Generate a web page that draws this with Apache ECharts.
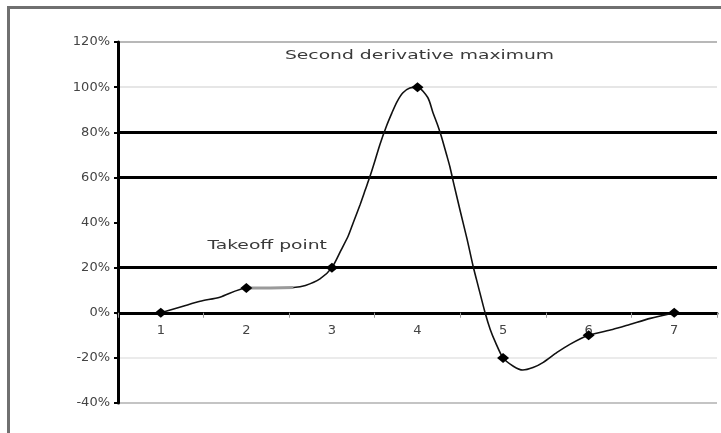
<!DOCTYPE html>
<html>
<head>
<meta charset="utf-8">
<script src="https://cdn.jsdelivr.net/npm/echarts@6/dist/echarts.min.js"></script>
<style>
  html, body { margin: 0; padding: 0; background: #fff; }
  #chart { width: 721px; height: 433px; }
</style>
</head>
<body>
<div id="chart"></div>
<script>
// ---- data ----
const xLabels = [1, 2, 3, 4, 5, 6, 7];
const xTickMarks = [0.5, 1.5, 2.5, 3.5, 4.5, 5.5, 6.5, 7.5];
const pointX = [1, 2, 3, 4, 5, 6, 7];
const pointY = [0, 11, 20, 100, -20, -10, 0];
const curveX = [1.00, 1.26, 1.46, 1.69, 2.00, 2.28, 2.55, 2.69, 2.86, 3.00, 3.11, 3.19, 3.25, 3.33, 3.39, 3.45, 3.50, 3.56, 3.64, 3.70, 3.76, 3.83, 3.91, 4.00, 4.12, 4.18, 4.24, 4.28, 4.34, 4.38, 4.42, 4.50, 4.58, 4.65, 4.71, 4.79, 4.85, 4.91, 5.00, 5.12, 5.23, 5.35, 5.47, 5.63, 5.78, 6.00, 6.28, 6.48, 6.72, 7.00];
const curveY = [0, 2.9, 5.1, 6.9, 11, 11, 11.2, 12.1, 15, 20, 28, 34, 40, 48, 54.5, 61, 67, 74.5, 83, 88.5, 93.5, 97.5, 99.6, 100, 95.4, 88.8, 82.7, 78, 70, 64.5, 57.8, 45, 32.5, 20.6, 11.7, 0, -7.4, -13, -20, -23.7, -25.4, -24.3, -22, -17.6, -14, -10, -7.4, -5.2, -2.5, 0];
const flatX = [2.00, 2.28, 2.55];
const flatY = [11, 11, 11.2];
const yMin = -40, yMax = 120, yStep = 20;
const xMin = 0.5, xMax = 7.5;
const annotationPeak = 'Second derivative maximum';
const annotationTakeoff = 'Takeoff point';
const peakIndex = 3, takeoffIndex = 2;

// ---- layout ----
const FONT = 'DejaVu Sans';
const W = 721, H = 433;
const G = { left: 118, right: 4, top: 42, bottom: 30 };
const gridH = H - G.top - G.bottom;
// shift the x axis up from the grid bottom to the 0% line
const zeroOffset = -gridH * (0 - yMin) / (yMax - yMin);

const chart = echarts.init(document.getElementById('chart'), null, { renderer: 'canvas' });
const zip = (xs, ys) => xs.map((x, i) => [x, ys[i]]);
const N = 'transparent';

chart.setOption({
  animation: false,
  backgroundColor: '#fff',
  grid: { left: G.left, right: G.right, top: G.top, bottom: G.bottom, containLabel: false },
  xAxis: {
    type: 'value', min: xMin, max: xMax, position: 'bottom', offset: zeroOffset,
    axisLine: { show: true, onZero: false, lineStyle: { color: '#000', width: 3 } },
    axisTick: { show: true, customValues: xTickMarks, length: 5, lineStyle: { color: '#9a9a9a', width: 1 } },
    axisLabel: { customValues: xLabels, formatter: v => String(v), margin: 11, fontSize: 13, fontFamily: FONT, color: '#444' },
    splitLine: { show: false }
  },
  yAxis: [
    {
      type: 'value', min: yMin, max: yMax, interval: yStep,
      axisLine: { show: true, onZero: false, lineStyle: { color: '#000', width: 3 } },
      axisTick: { show: true, length: 4, lineStyle: { color: '#000', width: 2 } },
      axisLabel: { formatter: '{value}%', margin: 8, fontSize: 13, fontFamily: FONT, color: '#444' },
      splitLine: { show: true, lineStyle: { width: 2, color: ['#c4c4c4', '#ebebeb', N, N, N, N, N, '#e6e6e6', '#b8b8b8'] } }
    },
    {
      type: 'value', min: yMin, max: yMax, interval: yStep, position: 'left',
      axisLine: { show: false, onZero: false }, axisTick: { show: false }, axisLabel: { show: false },
      splitLine: { show: true, lineStyle: { width: 3, color: [N, N, N, '#000', N, '#000', '#000', N, N] } }
    }
  ],
  series: [
    {
      type: 'line', xAxisIndex: 0, yAxisIndex: 0, data: zip(curveX, curveY),
      smooth: 0.25, showSymbol: false, lineStyle: { color: '#111', width: 1.6 }, z: 3
    },
    {
      type: 'line', xAxisIndex: 0, yAxisIndex: 0, data: zip(flatX, flatY),
      smooth: false, showSymbol: false, lineStyle: { color: '#9a9a9a', width: 3 }, z: 4
    },
    {
      type: 'scatter', xAxisIndex: 0, yAxisIndex: 0, data: zip(pointX, pointY),
      symbol: 'diamond', symbolSize: [12, 10], itemStyle: { color: '#000', opacity: 1 }, z: 5
    }
  ]
});

const peak = chart.convertToPixel({ xAxisIndex: 0, yAxisIndex: 0 }, [pointX[peakIndex], pointY[peakIndex]]);
const take = chart.convertToPixel({ xAxisIndex: 0, yAxisIndex: 0 }, [pointX[takeoffIndex], pointY[takeoffIndex]]);

chart.setOption({
  graphic: [
    { type: 'rect', shape: { x: 7, y: 6, width: W - 7, height: 3 }, style: { fill: '#707070' }, silent: true },
    { type: 'rect', shape: { x: 7, y: 6, width: 3, height: H - 6 }, style: { fill: '#707070' }, silent: true },
    {
      type: 'text', x: peak[0] + 2, y: peak[1] - 31, scaleX: 1.56,
      style: { text: annotationPeak, fontSize: 12, fontFamily: FONT, fill: '#3a3a3a',
               align: 'center', textAlign: 'center', verticalAlign: 'middle', textVerticalAlign: 'middle' }
    },
    {
      type: 'text', x: take[0] - 5, y: take[1] - 22, scaleX: 1.56,
      style: { text: annotationTakeoff, fontSize: 12, fontFamily: FONT, fill: '#3a3a3a',
               align: 'right', textAlign: 'right', verticalAlign: 'middle', textVerticalAlign: 'middle' }
    }
  ]
});
</script>
</body>
</html>
